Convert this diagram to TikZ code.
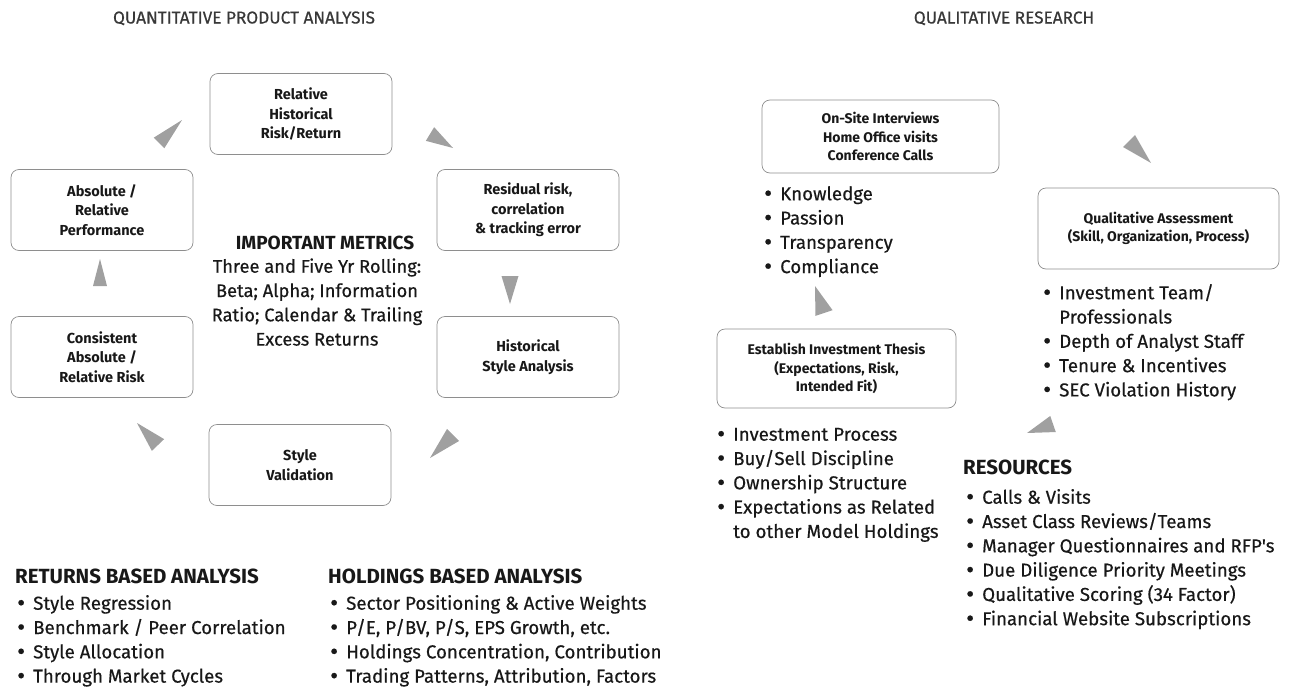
\documentclass[tikz,border=0pt]{standalone}
\usepackage{fontspec}
\setmainfont{Fira Sans}
\newfontfamily\bodyfont{Fira Sans}[FakeBold=0.45]
\usetikzlibrary{calc}

\definecolor{boxline}{HTML}{8E8E8E}
\definecolor{tipfill}{HTML}{A0A0A0}
\definecolor{ink}{HTML}{181818}
\definecolor{headink}{HTML}{383838}

\newcommand\bitem[1]{\strut\makebox[16pt][l]{\raisebox{-0.07em}{\scalebox{1.3}{\textbullet}}}#1}
\newcommand\bcont[1]{\strut\hspace*{16pt}#1}

\tikzset{
  stage/.style={draw=boxline, line width=0.7pt, rounded corners=8pt,
    minimum width=182pt, minimum height=81pt, inner sep=0pt, align=center,
    text=ink, font=\fontsize{14.5}{19.5}\selectfont\bfseries},
  wide stage/.style={stage, minimum width=239pt, minimum height=79pt,
    font=\fontsize{14}{18.5}\selectfont\bfseries},
  section title/.style={anchor=base, inner sep=0pt, text=headink,
    font=\bodyfont\fontsize{17.2}{18}\selectfont},
  heading/.style={anchor=west, inner sep=0pt, text=ink,
    font=\fontsize{20.5}{22}\selectfont\bfseries},
  bullets/.style={anchor=north west, inner sep=0pt, align=left, text=ink,
    font=\bodyfont\fontsize{18.7}{24.3}\selectfont},
  tipshape/.style={fill=tipfill, draw=none}
}

% filled arrowhead: base centre, tip, half width of the base
\newcommand\arrowtip[3]{%
  \fill[tipshape] ($(#1)!#3!90:(#2)$) -- (#2) -- ($(#1)!#3!-90:(#2)$) -- cycle;}

\begin{document}
\begin{tikzpicture}[x=1pt, y=-1pt]
\useasboundingbox (0,0) rectangle (1298,688);

% section titles
\node[section title] (qtitle) at (244,23.5) {QUANTITATIVE PRODUCT ANALYSIS};
\node[section title] (rtitle) at (1004,23.5) {QUALITATIVE RESEARCH};

% quantitative cycle
\node[stage] (rhr) at (301,114) {Relative\\Historical\\Risk/Return};
\node[stage] (arp) at (102,210) {Absolute /\\Relative\\Performance};
\node[stage] (rrc) at (528,210) {Residual risk,\\correlation\\\& tracking error};
\node[stage] (car) at (102,357) {Consistent\\Absolute /\\Relative Risk};
\node[stage] (hsa) at (528,357) {Historical\\Style Analysis};
\node[stage] (sv)  at (300,465) {Style\\Validation};

\coordinate (t1b) at (159,143); \coordinate (t1t) at (182,120);
\coordinate (t2b) at (430,134); \coordinate (t2t) at (453,148);
\coordinate (t3b) at (510,276); \coordinate (t3t) at (510,304);
\coordinate (t4b) at (453,435); \coordinate (t4t) at (430,458);
\coordinate (t5b) at (158,445); \coordinate (t5t) at (137,423);
\coordinate (t6b) at (100,286); \coordinate (t6t) at (100,259);
\arrowtip{t1b}{t1t}{7.5pt}
\arrowtip{t2b}{t2t}{8pt}
\arrowtip{t3b}{t3t}{8.5pt}
\arrowtip{t4b}{t4t}{8.5pt}
\arrowtip{t5b}{t5t}{8.5pt}
\arrowtip{t6b}{t6t}{7pt}

% metrics in the middle of the cycle
\node[inner sep=0pt, text=ink, font=\fontsize{19}{22}\selectfont\bfseries]
  (metricshead) at (325,243) {IMPORTANT METRICS};
\node[anchor=north, inner sep=0pt, align=center, text=ink,
  font=\bodyfont\fontsize{18.3}{24.3}\selectfont] (metrics) at (317,255.5)
  {\strut Three and Five Yr Rolling:\\\strut Beta; Alpha; Information\\
   \strut Ratio; Calendar \& Trailing\\\strut Excess Returns};

% analysis lists
\node[heading] (rba) at (15,576) {RETURNS BASED ANALYSIS};
\node[bullets] (rbalist) at (17,592.5)
  {\bitem{Style Regression}\\\bitem{Benchmark / Peer Correlation}\\
   \bitem{Style Allocation}\\\bitem{Through Market Cycles}};
\node[heading] (hba) at (328,576) {HOLDINGS BASED ANALYSIS};
\node[bullets] (hbalist) at (330,592.5)
  {\bitem{Sector Positioning \& Active Weights}\\\bitem{P/E, P/BV, P/S, EPS Growth, etc.}\\
   \bitem{Holdings Concentration, Contribution}\\\bitem{Trading Patterns, Attribution, Factors}};

% qualitative cycle
\node[wide stage, minimum width=237pt, minimum height=73pt] (os) at (880.5,136.5)
  {On-Site Interviews\\Home Office visits\\Conference Calls};
\node[wide stage] (eit) at (836.5,368.5)
  {Establish Investment Thesis\\(Expectations, Risk,\\Intended Fit)};
\node[wide stage, minimum width=241pt, minimum height=81pt] (qa) at (1158.5,228.5)
  {Qualitative Assessment\\(Skill, Organization, Process)};

\node[bullets] (oslist) at (764,183)
  {\bitem{Knowledge}\\\bitem{Passion}\\\bitem{Transparency}\\\bitem{Compliance}};
\node[bullets] (eitlist) at (717,423.5)
  {\bitem{Investment Process}\\\bitem{Buy/Sell Discipline}\\\bitem{Ownership Structure}\\
   \bitem{Expectations as Related}\\\bcont{to other Model Holdings}};
\node[bullets] (qalist) at (1043,282)
  {\bitem{Investment Team/}\\\bcont{Professionals}\\\bitem{Depth of Analyst Staff}\\
   \bitem{Tenure \& Incentives}\\\bitem{SEC Violation History}};

\coordinate (t7b) at (824,313); \coordinate (t7t) at (815,286);
\coordinate (t8b) at (1129,141); \coordinate (t8t) at (1151,163);
\coordinate (t9b) at (1053,424); \coordinate (t9t) at (1027,433);
\arrowtip{t7b}{t7t}{9pt}
\arrowtip{t8b}{t8t}{8.5pt}
\arrowtip{t9b}{t9t}{8.5pt}

% resources
\node[heading] (res) at (963,467) {RESOURCES};
\node[bullets] (reslist) at (966,486.5)
  {\bitem{Calls \& Visits}\\\bitem{Asset Class Reviews/Teams}\\
   \bitem{Manager Questionnaires and RFP's}\\\bitem{Due Diligence Priority Meetings}\\
   \bitem{Qualitative Scoring (34 Factor)}\\\bitem{Financial Website Subscriptions}};
\end{tikzpicture}
\end{document}
